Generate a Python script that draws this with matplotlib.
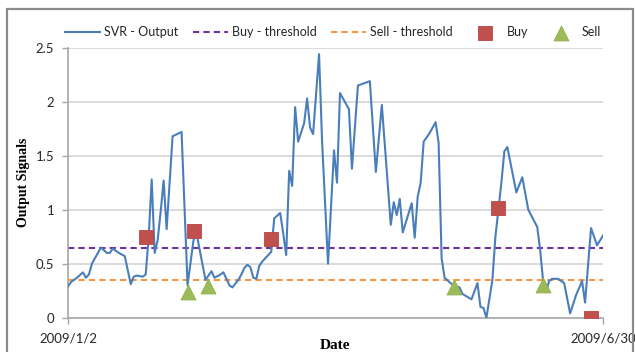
import matplotlib
matplotlib.use("Agg")
import matplotlib.pyplot as plt
from matplotlib.patches import Rectangle

# Days elapsed since 2009/1/2 for each SVR output point
day = [0, 1, 3, 5, 6, 7, 8, 11, 13, 14, 15, 17, 19, 21, 22, 23, 25, 26, 27, 28,
       29, 30, 31, 32, 33, 35, 38, 40, 42, 43, 46, 48, 49, 51, 52, 54, 55, 57, 58, 59,
       60, 61, 62, 63, 64, 65, 67, 68, 69, 71, 72, 73, 74, 75, 76, 77, 79, 80, 81, 82,
       84, 85, 87, 89, 90, 91, 94, 95, 97, 101, 103, 105, 108, 109, 110, 111, 112, 115, 116, 117,
       118, 119, 121, 123, 124, 125, 126, 128, 130, 131, 132, 135, 137, 138, 139, 140, 142, 143, 145, 146,
       147, 150, 152, 154, 157, 158, 159, 160, 161, 162, 164, 166, 168, 170, 172, 173, 175, 177, 179]

svr_output = [0.29, 0.33, 0.37, 0.42, 0.37, 0.40, 0.50, 0.65, 0.60, 0.60, 0.64, 0.60, 0.57, 0.31, 0.38, 0.39, 0.38, 0.40, 0.75, 1.28,
              0.60, 0.72, 0.98, 1.27, 0.82, 1.68, 1.72, 0.30, 0.72, 0.78, 0.35, 0.43, 0.37, 0.40, 0.42, 0.30, 0.28, 0.35, 0.40, 0.46,
              0.49, 0.47, 0.37, 0.36, 0.48, 0.52, 0.58, 0.61, 0.92, 0.97, 0.78, 0.58, 1.36, 1.22, 1.95, 1.63, 1.80, 2.03, 1.76, 1.70,
              2.44, 1.64, 0.50, 1.55, 1.25, 2.08, 1.93, 1.38, 2.15, 2.19, 1.35, 1.97, 0.86, 1.07, 0.95, 1.10, 0.79, 1.06, 0.74, 1.12,
              1.25, 1.63, 1.71, 1.81, 1.62, 0.55, 0.37, 0.32, 0.29, 0.28, 0.22, 0.17, 0.32, 0.10, 0.09, 0.00, 0.35, 0.75, 1.25, 1.54,
              1.58, 1.16, 1.30, 1.00, 0.84, 0.62, 0.33, 0.25, 0.34, 0.36, 0.36, 0.32, 0.04, 0.21, 0.34, 0.14, 0.83, 0.67, 0.76]

buy_threshold = 0.65
sell_threshold = 0.35

buy_day = [26, 42, 68, 144, 175]
buy_value = [0.75, 0.80, 0.73, 1.02, 0.00]
sell_day = [40, 47, 129, 159]
sell_value = [0.24, 0.29, 0.28, 0.30]

x_tick_days = [0, 179]
x_tick_labels = ["2009/1/2", "2009/6/30"]
y_ticks = [0, 0.5, 1, 1.5, 2, 2.5]
y_tick_labels = ["0", "0.5", "1", "1.5", "2", "2.5"]

W, H = 635, 352
fig = plt.figure(figsize=(W / 100, H / 100), dpi=100)
fig.patch.set_facecolor("white")

# chart-area frame
fig.patches.append(Rectangle((7 / W, -0.05), (633 - 7) / W, (H - 9) / H + 0.05,
                             transform=fig.transFigure, fill=False,
                             edgecolor="#8c8c8c", linewidth=1.6, zorder=0))

ax = fig.add_axes([68 / W, (H - 317.7) / H, (603 - 68) / W, 270 / H])
ax.set_xlim(0, 179)
ax.set_ylim(0, 2.5)

for y in y_ticks[1:]:
    ax.axhline(y, color="#d9d9d9", linewidth=1.3, zorder=1)

line_svr, = ax.plot(day, svr_output, color="#4a7ebb", linewidth=1.5, zorder=3,
                    label="SVR - Output")
line_buy = ax.axhline(buy_threshold, color="#7030a0", linewidth=1.5,
                      linestyle=(0, (3, 2)), zorder=2, label="Buy - threshold")
line_sell = ax.axhline(sell_threshold, color="#f79646", linewidth=1.5,
                       linestyle=(0, (3, 2)), zorder=2, label="Sell - threshold")
pts_buy = ax.scatter(buy_day, buy_value, marker="s", s=100, color="#c0504d",
                     edgecolors="#b94643", linewidths=0.6, zorder=5, label="Buy")
pts_sell = ax.scatter(sell_day, sell_value, marker="^", s=115, color="#9bbb59",
                      edgecolors="#8fb04d", linewidths=0.6, zorder=5, label="Sell")

font_body = ["Lato", "DejaVu Sans"]
ax.set_yticks(y_ticks)
ax.set_yticklabels(y_tick_labels, fontsize=9.5, color="#262626", family=font_body)
ax.set_xticks(x_tick_days)
ax.set_xticklabels(x_tick_labels, fontsize=9.5, color="#262626", family=font_body)
ax.tick_params(axis="y", direction="out", length=4, width=1, color="#a6a6a6", pad=6)
ax.tick_params(axis="x", direction="out", length=4, width=1, color="#a6a6a6", pad=7)

for side in ("top", "right"):
    ax.spines[side].set_visible(False)
ax.spines["left"].set_color("#a6a6a6")
ax.spines["bottom"].set_color("#a6a6a6")
ax.spines["left"].set_linewidth(1.2)
ax.spines["bottom"].set_linewidth(1.2)

ax.set_ylabel("Output Signals", family="Liberation Serif", fontweight="bold",
              fontsize=10, labelpad=4)
ax.set_xlabel("Date", family="Liberation Serif", fontweight="bold",
              fontsize=11, labelpad=-4)

fig.legend(handles=[line_svr, line_buy, line_sell, pts_buy, pts_sell],
           loc="center", bbox_to_anchor=(333 / W, (H - 32) / H), ncol=5,
           frameon=False, handlelength=2.8, handletextpad=0.3, columnspacing=1.2,
           prop={"family": font_body, "size": 9}, labelcolor="#262626")

fig.savefig("out.png", dpi=100, facecolor="white")
